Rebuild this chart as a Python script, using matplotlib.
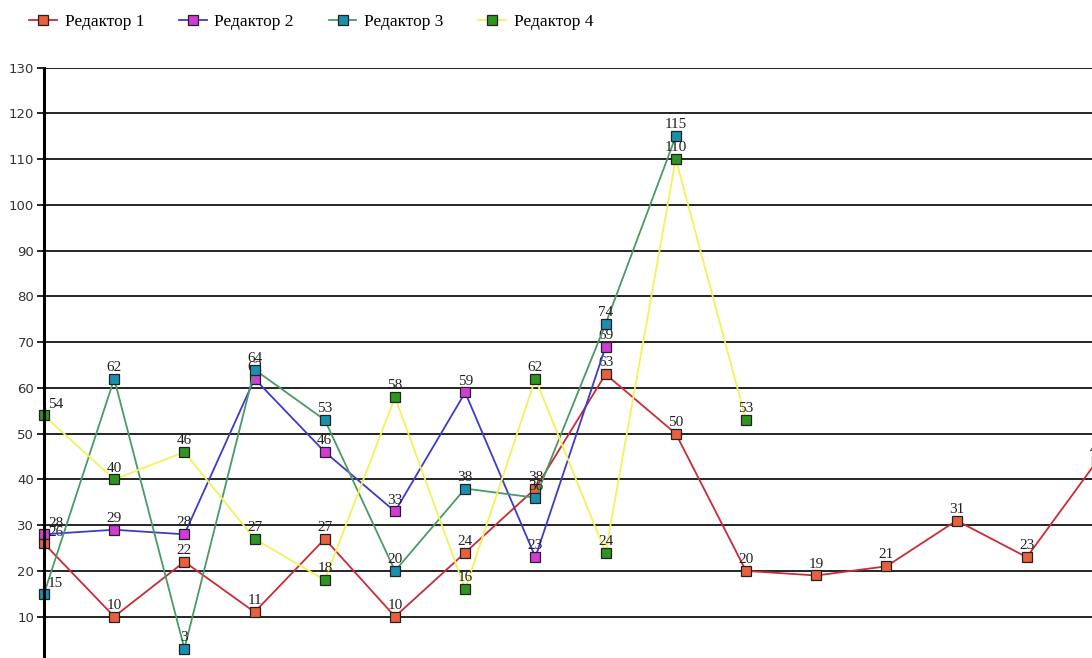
import matplotlib
matplotlib.use("Agg")
import matplotlib.pyplot as plt
from matplotlib.lines import Line2D

names = ["Редактор 1", "Редактор 2", "Редактор 3", "Редактор 4"]
s1 = [26, 10, 22, 11, 27, 10, 24, 38, 63, 50, 20, 19, 21, 31, 23, 44]
s2 = [28, 29, 28, 62, 46, 33, 59, 23, 69]
s3 = [15, 62, 3, 64, 53, 20, 38, 36, 74, 115]
s4 = [54, 40, 46, 27, 18, 58, 16, 62, 24, 110, 53]
series = [s1, s2, s3, s4]
yticks = list(range(0, 140, 10))

marker_colors = ["#e8603e", "#d23cd6", "#1a8fae", "#2f9420"]
line_colors = ["#cc2a36", "#3c3cc8", "#4a9a66", "#f2f25a"]

fig = plt.figure(figsize=(10.92, 6.58), dpi=100)
ax = fig.add_axes([44 / 1092, -4.4 / 658, 1 - 44 / 1092, (4.4 + 590.3) / 658])
ax.set_xlim(0, (1092 - 44) / 70.2)
ax.set_ylim(0, 130)
ax.set_yticks(yticks)
ax.set_xticks([])
for y in yticks:
    ax.axhline(y, color="black", lw=1.2, zorder=1)
for sp in ["top", "right", "bottom"]:
    ax.spines[sp].set_visible(False)
ax.spines["left"].set_linewidth(2.2)
ax.spines["left"].set_zorder(10)
ax.tick_params(axis="y", length=5, width=1.2, direction="out", labelsize=9.5, pad=2, colors="black")
for t in ax.get_yticklabels():
    t.set_fontfamily("DejaVu Sans")
    t.set_color("#333333")

handles = []
for i, vals in enumerate(series):
    xs = list(range(len(vals)))
    z = 3 + i * 2
    ax.plot(xs, vals, color=line_colors[i], lw=1.3, zorder=z, clip_on=True)
    ax.plot(xs, vals, ls="none", marker="s", ms=7.5, mfc=marker_colors[i],
            mec="#222222", mew=0.9, zorder=z + 0.5, clip_on=False)
    for x, v in zip(xs, vals):
        if x == 0:
            ax.annotate(str(v), (x, v), xytext=(3, 3), textcoords="offset points",
                        ha="left", va="bottom", fontsize=11, family="Liberation Serif",
                        color="#222222", zorder=z + 1, annotation_clip=False)
        else:
            ax.annotate(str(v), (x, v), xytext=(0, 3.5), textcoords="offset points",
                        ha="center", va="bottom", fontsize=11, family="Liberation Serif",
                        color="#222222", zorder=z + 1, annotation_clip=False)
    handles.append(Line2D([0], [0], color=line_colors[i], lw=1.3, marker="s", ms=6.5,
                          mfc=marker_colors[i], mec="#222222", mew=0.9))

leg = fig.legend(handles, names, loc="center left", bbox_to_anchor=(29 / 1092, 1 - 22 / 658), ncol=4,
                 frameon=False, handlelength=1.6, handletextpad=0.45, columnspacing=2.0,
                 borderpad=0, borderaxespad=0,
                 prop={"family": "Liberation Serif", "size": 12.5})

fig.savefig("out.png", dpi=100)
